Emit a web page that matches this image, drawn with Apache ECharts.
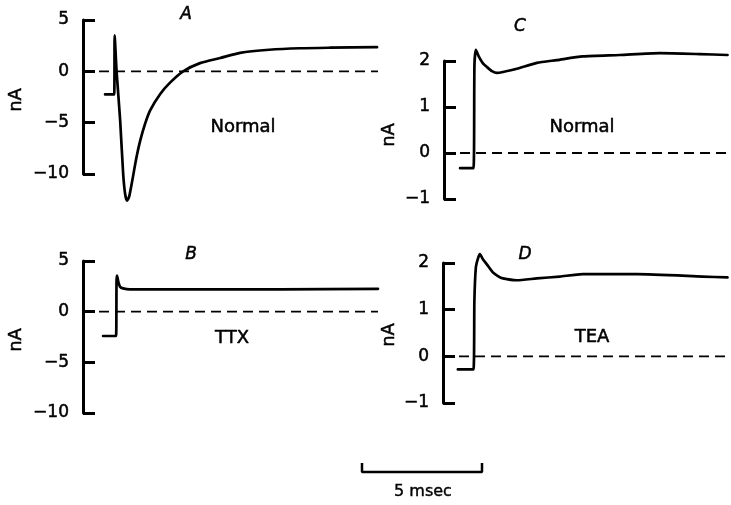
<!DOCTYPE html>
<html>
<head>
<meta charset="utf-8">
<script src="https://cdn.jsdelivr.net/npm/echarts@6/dist/echarts.min.js"></script>
<style>html,body{margin:0;padding:0;background:#fff}#c{width:731px;height:505px}</style>
</head>
<body>
<div id="c"></div>
<script>
// Time in msec relative to the voltage step; current in nA
const tA = [-0.38, 0, 0.02, 0.10, 0.25, 0.375, 0.46, 0.54, 0.625, 0.75, 0.92, 1.08, 1.29, 1.5, 1.92, 2.33, 2.875, 3.58, 4.42, 5.25, 6.46, 7.75, 9.0, 10.96];
const vA = [-2.25, -2.25, 3.5, 0, -4.8, -10, -12.0, -12.6, -12.2, -10.7, -8.5, -6.8, -5.1, -3.8, -2.2, -1.1, 0, 0.8, 1.3, 1.8, 2.1, 2.25, 2.3, 2.35];

const tB = [-0.54, 0, 0.02, 0.04, 0.1, 0.17, 0.29, 0.58, 3.5, 6.8, 10.9];
const vB = [-2.4, -2.4, 3.0, 3.55, 2.9, 2.45, 2.3, 2.2, 2.2, 2.2, 2.25];

const tC = [-0.58, -0.02, 0.02, 0.08, 0.21, 0.375, 0.54, 0.75, 0.96, 1.21, 1.79, 2.625, 3.46, 4.54, 6.08, 7.75, 9.42, 10.58];
const vC = [-0.33, -0.33, 1.9, 2.24, 2.09, 1.95, 1.87, 1.78, 1.74, 1.76, 1.83, 1.96, 2.02, 2.1, 2.13, 2.17, 2.15, 2.13];

const tD = [-0.67, -0.02, 0.02, 0.08, 0.17, 0.25, 0.375, 0.54, 0.79, 1.0, 1.21, 1.79, 2.625, 3.58, 4.54, 6.79, 9.54, 10.58];
const vD = [-0.28, -0.28, 1.2, 1.9, 2.1, 2.19, 2.08, 1.97, 1.8, 1.72, 1.67, 1.63, 1.67, 1.71, 1.76, 1.76, 1.71, 1.69];

const ticksAB = [-10, -5, 0, 5];
const ticksCD = [-1, 0, 1, 2];
const panelLetters = ['A', 'B', 'C', 'D'];
const conditions = ['Normal', 'TTX', 'Normal', 'TEA'];
const unitLabel = 'nA';
const scaleBarMs = 5;
const scaleBarLabel = '5 msec';

const ink = '#000';
const font = '"DejaVu Sans", sans-serif';

const panels = [
  {t: tA, v: vA, ticks: ticksAB, grid: {left: 83, top: 20, width: 295, height: 154}, xr: [-1.3, 11]},
  {t: tB, v: vB, ticks: ticksAB, grid: {left: 83, top: 261, width: 295, height: 152}, xr: [-1.375, 10.9]},
  {t: tC, v: vC, ticks: ticksCD, grid: {left: 444, top: 61, width: 284, height: 138}, xr: [-1.25, 10.6]},
  {t: tD, v: vD, ticks: ticksCD, grid: {left: 443, top: 263, width: 285, height: 140}, xr: [-1.29, 10.6]}
];

const grids = [], xAxes = [], yAxes = [], series = [];
panels.forEach((p, i) => {
  grids.push(p.grid);
  xAxes.push({gridIndex: i, type: 'value', min: p.xr[0], max: p.xr[1], show: false});
  const step = p.ticks[1] - p.ticks[0];
  yAxes.push({
    gridIndex: i, type: 'value', min: p.ticks[0], max: p.ticks[p.ticks.length - 1], interval: step,
    splitLine: {show: false},
    axisLine: {show: true, onZero: false, lineStyle: {color: ink, width: 3}},
    axisTick: {show: true, inside: true, length: 12, lineStyle: {color: ink, width: 3}},
    axisLabel: {color: ink, fontFamily: font, fontSize: 17, margin: 14,
      textBorderColor: ink, textBorderWidth: 0.5,
      formatter: v => String(v).replace('-', '\u2212')}
  });
  series.push({
    type: 'line', xAxisIndex: i, yAxisIndex: i, symbol: 'none', silent: true,
    data: [[p.xr[0], 0], [p.xr[1], 0]],
    lineStyle: {color: ink, width: 1.8, type: [10, 6]}
  });
  series.push({
    type: 'line', xAxisIndex: i, yAxisIndex: i, symbol: 'none', clip: false, silent: true,
    smooth: 0.2,
    data: p.t.map((t, k) => [t, p.v[k]]),
    lineStyle: {color: ink, width: 2.7, join: 'round', cap: 'round'}
  });
});

// scale bar grid
grids.push({left: 362, top: 463, width: 120, height: 9});
xAxes.push({gridIndex: 4, type: 'value', min: 0, max: scaleBarMs, show: false});
yAxes.push({gridIndex: 4, type: 'value', min: 0, max: 1, show: false});
series.push({
  type: 'line', xAxisIndex: 4, yAxisIndex: 4, symbol: 'none', silent: true, clip: false,
  data: [[0, 1], [0, 0], [scaleBarMs, 0], [scaleBarMs, 1]],
  lineStyle: {color: ink, width: 2.5}
});

const txt = (x, y, s, opt) => Object.assign({
  type: 'text', x: x, y: y,
  style: Object.assign({text: s, fill: ink, font: '18px ' + font, textAlign: 'center', textVerticalAlign: 'middle',
    stroke: ink, lineWidth: 0.5}, opt || {})
});

const graphic = [
  txt(186, 15, panelLetters[0], {font: 'italic 17px ' + font}),
  txt(191, 255, panelLetters[1], {font: 'italic 17px ' + font}),
  txt(520, 27, panelLetters[2], {font: 'italic 17px ' + font}),
  txt(525, 255, panelLetters[3], {font: 'italic 17px ' + font}),
  txt(243, 127, conditions[0]),
  txt(232, 338, conditions[1]),
  txt(582, 127, conditions[2]),
  txt(592, 337, conditions[3]),
  Object.assign(txt(16, 100, unitLabel), {rotation: Math.PI / 2}),
  Object.assign(txt(16, 340, unitLabel), {rotation: Math.PI / 2}),
  Object.assign(txt(389, 135, unitLabel), {rotation: Math.PI / 2}),
  Object.assign(txt(389, 335, unitLabel), {rotation: Math.PI / 2}),
  txt(423, 492, scaleBarLabel, {font: '16px ' + font, lineWidth: 0.4})
];

const chart = echarts.init(document.getElementById('c'), null, {renderer: 'canvas'});
chart.setOption({
  backgroundColor: '#fff',
  animation: false,
  grid: grids, xAxis: xAxes, yAxis: yAxes, series: series, graphic: graphic
});
</script>
</body>
</html>
